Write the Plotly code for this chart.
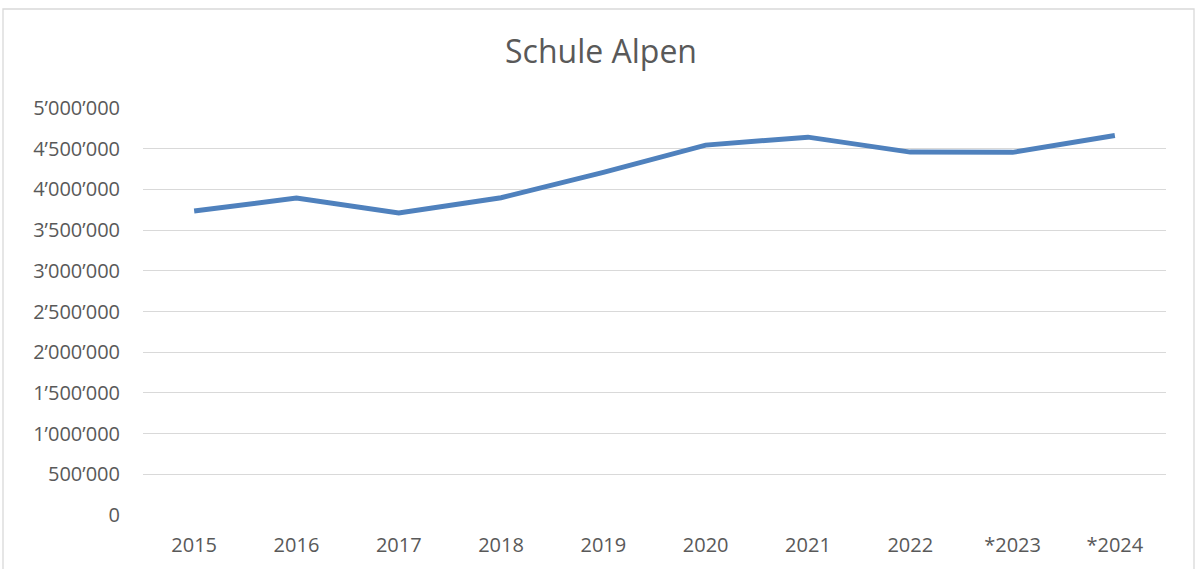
import plotly.graph_objects as go

years = ["2015", "2016", "2017", "2018", "2019", "2020", "2021", "2022", "*2023", "*2024"]
values = [3734000, 3893000, 3709000, 3898000, 4209000, 4544000, 4642000, 4458000, 4455000, 4663000]
tick_vals = [0, 500000, 1000000, 1500000, 2000000, 2500000, 3000000, 3500000, 4000000, 4500000, 5000000]
tick_text = ["0", "500’000", "1’000’000", "1’500’000", "2’000’000", "2’500’000",
             "3’000’000", "3’500’000", "4’000’000", "4’500’000", "5’000’000"]

W, H = 1198, 569
L, T = 143, 108
pw, ph = 1023, 407
R, B = W - L - pw, H - T - ph

fig = go.Figure()
fig.add_trace(go.Scatter(x=years, y=values, mode="lines",
                         line=dict(color="#4f81bd", width=5),
                         hoverinfo="skip", showlegend=False))

font = "Open Sans, Noto Sans, sans-serif"
fig.update_layout(
    width=W, height=H,
    margin=dict(l=L, r=R, t=T, b=B, pad=0),
    paper_bgcolor="white", plot_bgcolor="white",
    title=dict(text="Schule Alpen", x=601 / W, xanchor="center", y=1 - 52 / H, yanchor="middle",
               font=dict(family=font, size=32, color="#595959")),
    xaxis=dict(type="category", range=[-0.5, 9.5], showgrid=False, showline=False, zeroline=False,
               ticks="", tickfont=dict(family=font, size=20, color="#595959"), ticklabelstandoff=16),
    yaxis=dict(range=[0, 5000000], tickvals=tick_vals, ticktext=tick_text, showgrid=True,
               gridcolor="#d9d9d9", gridwidth=1.3, zeroline=False, showline=False, ticks="",
               tickfont=dict(family=font, size=20, color="#595959"), ticklabelstandoff=22),
    shapes=[dict(type="rect", xref="paper", yref="paper",
                 x0=(3 - L) / pw, x1=(1194 - L) / pw,
                 y0=-0.5, y1=(H - 9 - B) / ph,
                 line=dict(color="#d9d9d9", width=1.3), fillcolor="rgba(0,0,0,0)", layer="below")],
)
fig.write_html("out.html", config={"displayModeBar": False},
               post_script="document.body.style.margin='0';")
